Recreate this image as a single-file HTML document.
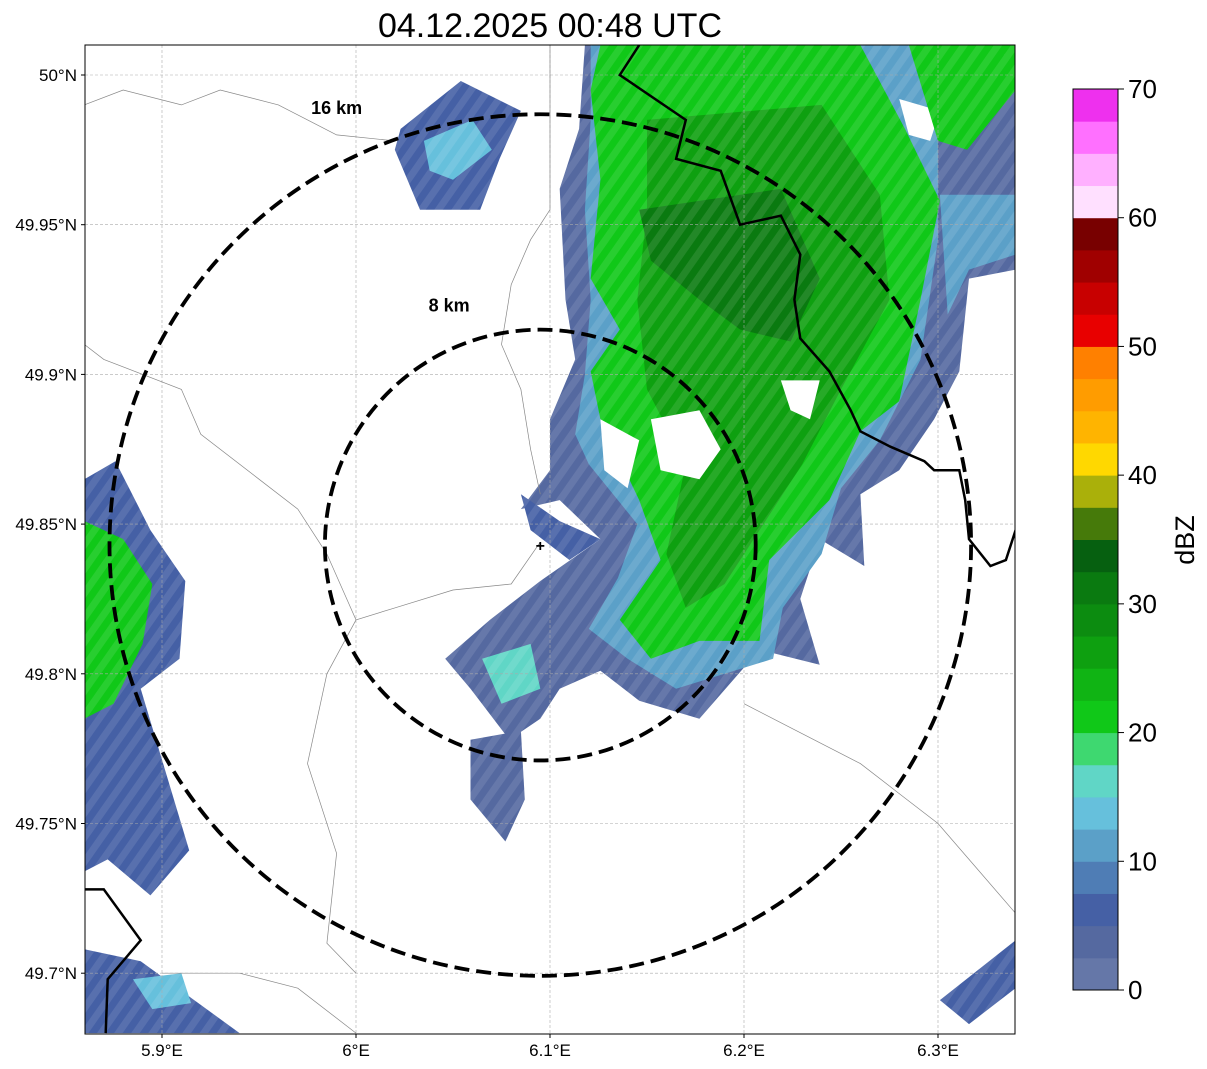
<!DOCTYPE html>
<html><head><meta charset="utf-8">
<style>
body{margin:0;background:#fff;font-family:"Liberation Sans",sans-serif;}
svg{display:block}
</style></head>
<body>
<svg id="chart" width="1207" height="1069" xmlns="http://www.w3.org/2000/svg"></svg>
<script>
// ---- data ----
const lonTicks = [5.9, 6.0, 6.1, 6.2, 6.3];
const lonLabels = ["5.9°E","6°E","6.1°E","6.2°E","6.3°E"];
const latTicks = [50.0, 49.95, 49.9, 49.85, 49.8, 49.75, 49.7];
const latLabels = ["50°N","49.95°N","49.9°N","49.85°N","49.8°N","49.75°N","49.7°N"];
const cbTicks = [0,10,20,30,40,50,60,70];
const cbColors = ["#6577a8","#5569a0","#4560a5","#4f7db5","#5ba0c8","#66c0dc","#60d6c6","#3ed870",
"#10c818","#10b414","#0ea010","#0c8c10","#0a7a10","#066010","#467a0a","#aab00a","#ffd800","#ffb400",
"#ff9c00","#ff8000","#e80000","#c80000","#a00000","#780000","#ffe0ff","#ffb0ff","#ff70ff","#ee30ee"];
const radarCenter = [6.095, 49.843];
const ringKm = [8, 16];
const ringLabelPos = [[6.048, 49.921], [5.990, 49.987]];
// echo regions: dBZ value + polygon [lon,lat]
const echoDbz = [4, 12, 21, 26, 31, 100, 100, 100, 100, 5, 13, 6, 20, 5, 14, 5, 6, 4, 16, 21, 12];
const echoPolys = [
 [[6.118,50.010],[6.340,50.010],[6.340,49.935],[6.316,49.932],[6.311,49.901],[6.298,49.885],[6.280,49.868],[6.260,49.860],[6.262,49.836],[6.239,49.845],[6.229,49.825],[6.239,49.803],[6.208,49.808],[6.177,49.785],[6.146,49.791],[6.126,49.801],[6.105,49.795],[6.095,49.785],[6.079,49.778],[6.059,49.795],[6.046,49.805],[6.069,49.818],[6.095,49.831],[6.126,49.845],[6.105,49.858],[6.085,49.855],[6.100,49.868],[6.100,49.885],[6.113,49.905],[6.108,49.925],[6.105,49.962],[6.115,49.982]],
 [[6.121,50.010],[6.300,50.010],[6.300,49.945],[6.291,49.905],[6.270,49.878],[6.250,49.862],[6.240,49.840],[6.220,49.822],[6.215,49.805],[6.190,49.800],[6.165,49.795],[6.140,49.805],[6.120,49.815],[6.135,49.832],[6.145,49.850],[6.120,49.870],[6.113,49.880],[6.118,49.900],[6.121,49.925],[6.118,49.955],[6.121,49.985]],
 [[6.126,50.010],[6.260,50.010],[6.283,49.982],[6.301,49.958],[6.291,49.925],[6.280,49.891],[6.260,49.881],[6.244,49.858],[6.213,49.838],[6.208,49.811],[6.177,49.811],[6.152,49.805],[6.136,49.818],[6.157,49.838],[6.146,49.858],[6.126,49.885],[6.121,49.901],[6.136,49.915],[6.121,49.932],[6.126,49.965],[6.121,49.995]],
 [[6.150,49.985],[6.240,49.990],[6.270,49.960],[6.275,49.925],[6.250,49.895],[6.230,49.870],[6.210,49.850],[6.190,49.830],[6.170,49.822],[6.160,49.840],[6.170,49.870],[6.150,49.895],[6.145,49.925],[6.150,49.955]],
 [[6.146,49.955],[6.219,49.962],[6.239,49.932],[6.224,49.911],[6.198,49.915],[6.177,49.925],[6.152,49.938]],
 [[6.219,49.898],[6.239,49.898],[6.234,49.885],[6.224,49.888]],
 [[6.152,49.885],[6.177,49.888],[6.188,49.875],[6.177,49.865],[6.157,49.868]],
 [[6.280,49.992],[6.301,49.988],[6.296,49.978],[6.285,49.980]],
 [[6.126,49.885],[6.146,49.878],[6.140,49.862],[6.128,49.868]],
 [[6.023,49.982],[6.054,49.998],[6.085,49.988],[6.074,49.972],[6.064,49.955],[6.033,49.955],[6.020,49.975]],
 [[6.035,49.978],[6.060,49.985],[6.070,49.975],[6.050,49.965],[6.038,49.968]],
 [[5.860,49.865],[5.876,49.871],[5.894,49.848],[5.912,49.831],[5.909,49.805],[5.889,49.795],[5.914,49.741],[5.894,49.726],[5.872,49.738],[5.860,49.734]],
 [[5.860,49.851],[5.880,49.845],[5.895,49.830],[5.890,49.810],[5.875,49.790],[5.860,49.785]],
 [[5.860,49.708],[5.889,49.704],[5.940,49.680],[5.860,49.680]],
 [[5.885,49.698],[5.910,49.700],[5.915,49.690],[5.895,49.688]],
 [[6.301,49.691],[6.340,49.711],[6.340,49.695],[6.316,49.683]],
 [[6.085,49.860],[6.105,49.851],[6.126,49.845],[6.110,49.838],[6.090,49.848]],
 [[6.059,49.778],[6.085,49.781],[6.087,49.758],[6.077,49.744],[6.059,49.758]],
 [[6.065,49.805],[6.090,49.810],[6.095,49.795],[6.075,49.790]],
 [[6.285,50.010],[6.340,50.010],[6.340,49.995],[6.315,49.975],[6.300,49.978]],
 [[6.301,49.960],[6.340,49.960],[6.340,49.940],[6.316,49.935],[6.305,49.920]]
];
const borderLine = [[6.146,50.010],[6.136,50.000],[6.170,49.985],[6.165,49.972],[6.188,49.968],[6.198,49.950],[6.219,49.953],[6.229,49.940],[6.226,49.925],[6.229,49.912],[6.244,49.901],[6.255,49.888],[6.260,49.881],[6.275,49.876],[6.293,49.871],[6.298,49.868],[6.311,49.868],[6.314,49.858],[6.316,49.845],[6.327,49.836],[6.335,49.838],[6.340,49.848]];
const borderLine2 = [[5.860,49.728],[5.870,49.728],[5.889,49.711],[5.872,49.698],[5.871,49.680]];
const adminLines = [
 [[6.10,50.010],[6.10,49.985],[6.10,49.955],[6.090,49.945],[6.080,49.930],[6.075,49.910],[6.085,49.895],[6.090,49.875],[6.095,49.860]],
 [[6.095,49.844],[6.080,49.830],[6.050,49.828],[6.020,49.822],[6.000,49.818],[5.985,49.800],[5.975,49.770],[5.990,49.740],[5.985,49.710],[6.000,49.700]],
 [[6.000,49.818],[5.985,49.840],[5.970,49.855],[5.950,49.865],[5.920,49.880],[5.910,49.895],[5.870,49.905],[5.860,49.910]],
 [[6.200,49.790],[6.230,49.780],[6.260,49.770],[6.280,49.760],[6.300,49.750],[6.320,49.735],[6.340,49.720]],
 [[5.860,49.990],[5.880,49.995],[5.910,49.990],[5.930,49.995],[5.960,49.990],[5.990,49.980],[6.020,49.978]],
 [[5.900,49.700],[5.940,49.700],[5.970,49.695],[6.000,49.680]]
];

// ---- axes ----
const X0=85,X1=1015,Y0=45,Y1=1034;
const sx = lon => 162 + (lon-5.9)*1940;
const sy = lat => 75 + (50-lat)*2994;
const CBX=1073,CBW=45,CBY0=990,CBY1=89;
const cy = v => CBY0 - (v/70)*(CBY0-CBY1);
const colorFor = d => cbColors[Math.min(27,Math.max(0,Math.floor(d/2.5)))];
const NS="http://www.w3.org/2000/svg";
const svg=document.getElementById('chart');
function mk(tag,attrs,parent){const e=document.createElementNS(NS,tag);for(const k in attrs)e.setAttribute(k,attrs[k]);(parent||svg).appendChild(e);return e;}
const pts = arr => arr.map(p=>sx(p[0]).toFixed(1)+","+sy(p[1]).toFixed(1)).join(" ");

const defs=mk('defs',{});
const cp=mk('clipPath',{id:'clip'},defs);
mk('rect',{x:X0,y:Y0,width:X1-X0,height:Y1-Y0},cp);
const pat=mk('pattern',{id:'tex',width:14,height:14,patternUnits:'userSpaceOnUse',patternTransform:'rotate(35)'},defs);
mk('rect',{x:0,y:0,width:7,height:14,fill:'rgba(255,255,255,0.10)'},pat);

const plot=mk('g',{'clip-path':'url(#clip)'});



echoPolys.forEach((poly,i)=>{
  const d=echoDbz[i];
  const p=mk('polygon',{points:pts(poly),fill:d>=100?'#ffffff':colorFor(d)},plot);
  
  
});
mk('rect',{x:X0,y:Y0,width:X1-X0,height:Y1-Y0,fill:'url(#tex)'},plot);

lonTicks.forEach(v=>{const l=mk('line',{x1:sx(v),x2:sx(v),y1:Y0,y2:Y1,stroke:'#aaa','stroke-width':0.6,'stroke-dasharray':'3,2'},plot);
 });
latTicks.forEach(v=>{const l=mk('line',{x1:X0,x2:X1,y1:sy(v),y2:sy(v),stroke:'#aaa','stroke-width':0.6,'stroke-dasharray':'3,2'},plot);
 });

adminLines.forEach(a=>{const l=mk('polyline',{points:pts(a),fill:'none',stroke:'#888','stroke-width':0.7},plot);
 });
[borderLine,borderLine2].forEach(a=>{const l=mk('polyline',{points:pts(a),fill:'none',stroke:'#000','stroke-width':2.5},plot);
 });

const cxp=sx(radarCenter[0]), cyp=sy(radarCenter[1]);
ringKm.forEach((k,i)=>{
  const r=(k/111.2)*2994;
  const c=mk('ellipse',{cx:cxp,cy:cyp,rx:r,ry:r,fill:'none',stroke:'#000','stroke-width':3.8,'stroke-dasharray':'15,7'},plot);
  
  const t=mk('text',{x:sx(ringLabelPos[i][0]),y:sy(ringLabelPos[i][1]),'font-size':18,'font-weight':'bold','text-anchor':'middle'},plot);
  t.textContent=k+' km';
  
});
const cr=mk('text',{x:cxp,y:cyp+6,'font-size':16,'font-weight':'bold','text-anchor':'middle'},plot);
cr.textContent='+';

const fr=mk('rect',{x:X0,y:Y0,width:X1-X0,height:Y1-Y0,fill:'none',stroke:'#000','stroke-width':1});


lonTicks.forEach((v,i)=>{mk('line',{x1:sx(v),x2:sx(v),y1:Y1,y2:Y1+4,stroke:'#000'});
 const t=mk('text',{x:sx(v),y:Y1+22,'font-size':17,'text-anchor':'middle'});t.textContent=lonLabels[i];
 });
latTicks.forEach((v,i)=>{mk('line',{x1:X0-4,x2:X0,y1:sy(v),y2:sy(v),stroke:'#000'});
 const t=mk('text',{x:X0-8,y:sy(v)+6,'font-size':17,'text-anchor':'end'});t.textContent=latLabels[i];
 });

const ti=mk('text',{x:550,y:37,'font-size':34,'text-anchor':'middle'});ti.textContent='04.12.2025 00:48 UTC';


cbColors.forEach((c,i)=>{const y1=cy(i*2.5),y2=cy((i+1)*2.5);
 const r=mk('rect',{x:CBX,y:y2,width:CBW,height:y1-y2+0.5,fill:c});
 });
mk('rect',{x:CBX,y:CBY1,width:CBW,height:CBY0-CBY1,fill:'none',stroke:'#000','stroke-width':1});
cbTicks.forEach(v=>{mk('line',{x1:CBX+CBW,x2:CBX+CBW+6,y1:cy(v),y2:cy(v),stroke:'#000'});
 const t=mk('text',{x:CBX+CBW+10,y:cy(v)+9,'font-size':26});t.textContent=v;
 });
const cl=mk('text',{x:1194,y:540,'font-size':27,'text-anchor':'middle',transform:'rotate(-90 1194 540)'});cl.textContent='dBZ';

</script>
</body></html>
